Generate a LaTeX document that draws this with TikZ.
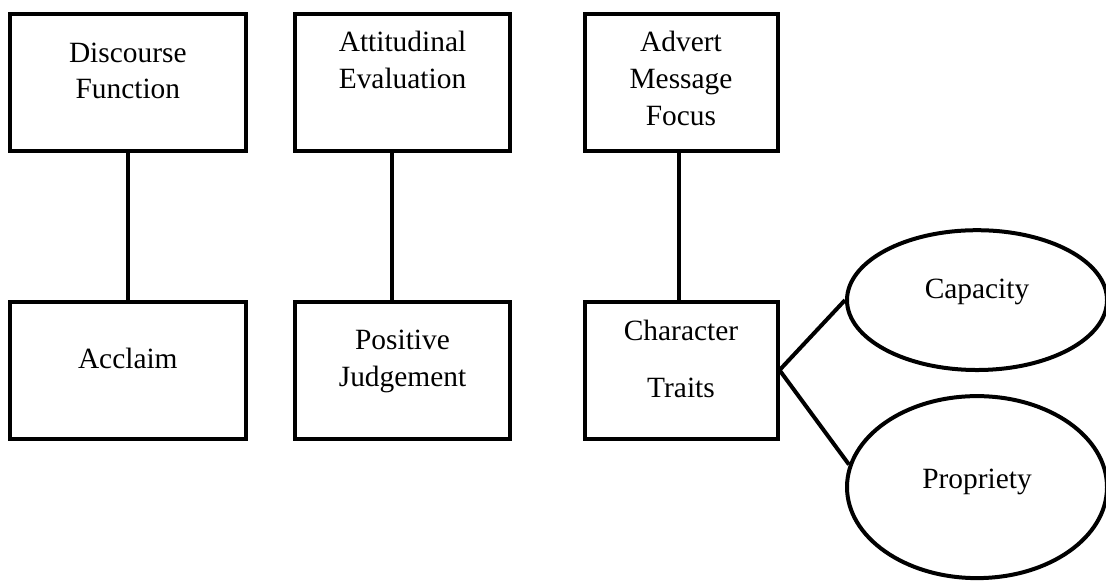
\documentclass[tikz,border=0pt]{standalone}
\usepackage{fontspec}
\setmainfont{Liberation Serif}
\usepackage{tikz}
\usetikzlibrary{shapes,positioning}

\begin{document}
\begin{tikzpicture}[
    font=\fontsize{14.7pt}{18.4pt}\selectfont,
    box/.style={draw, rectangle, line width=2pt, minimum height=68.5pt, align=center, text depth=11.7pt},
    oval/.style={draw, ellipse, line width=2pt, minimum width=130pt, align=center},
    link/.style={line width=2pt}
]
    \useasboundingbox (0,0) rectangle (553pt,-290pt);

    \node[box, minimum width=117.9pt] (disc) at (63.9pt,-41.25pt) {Discourse\\Function};
    \node[box, minimum width=107.2pt, right=22.8pt of disc, text depth=22.5pt] (att) {Attitudinal\\Evaluation};
    \node[box, minimum width=96.5pt, right=35.4pt of att, text depth=4.2pt] (adv) {Advert\\Message\\Focus};

    \node[box, minimum width=117.9pt, below=73.3pt of disc] (acc) {Acclaim};
    \node[box, minimum width=107.2pt, below=73.3pt of att] (pos) {Positive\\Judgement};
    \node[box, minimum width=96.5pt, below=73.3pt of adv] (chr) {Character\\[10pt]Traits};

    \draw[link] (disc) -- (acc);
    \draw[link] ([xshift=-5.25pt]att.south) -- ([xshift=-5.25pt]pos.north);
    \draw[link] ([xshift=-1pt]adv.south) -- ([xshift=-1pt]chr.north);

    % Traits split
    \node[oval, minimum height=69.9pt, right=32.75pt of chr.east, yshift=35pt, text depth=11.7pt] (cap) {Capacity};
    \node[oval, minimum height=91pt, right=32.75pt of chr.east, yshift=-58.5pt, text depth=8.7pt] (prop) {Propriety};
    \draw[link] (chr.east) -- (cap.west);
    \draw[link] (chr.east) -- (prop.170);

\end{tikzpicture}
\end{document}
